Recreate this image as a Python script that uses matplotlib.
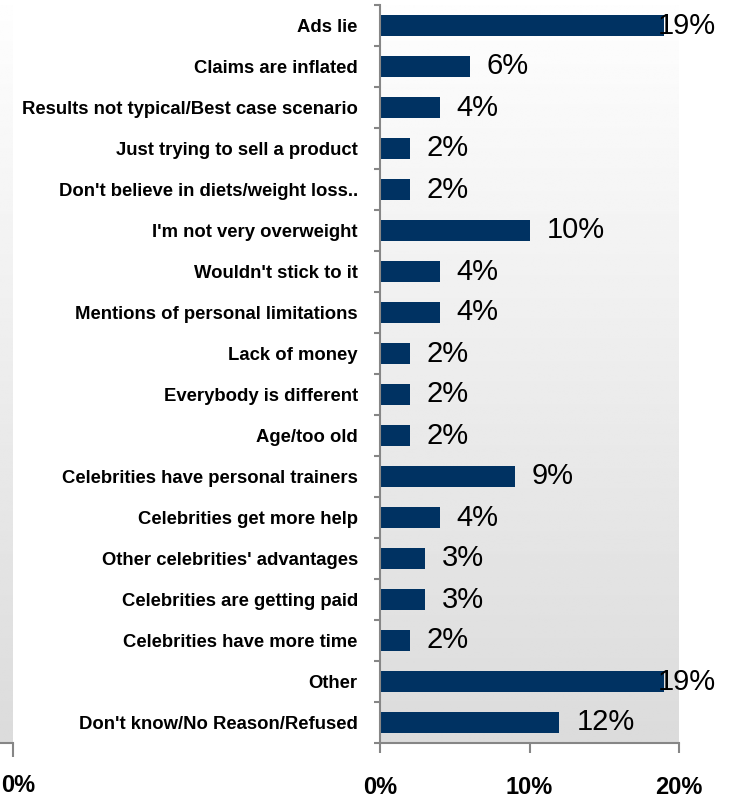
import numpy as np
import matplotlib
matplotlib.use("Agg")
from matplotlib import pyplot as plt
from matplotlib.ticker import FixedLocator, NullFormatter

plt.rcParams['font.family'] = ['Liberation Sans', 'DejaVu Sans']

reasons = [
    "Ads lie",
    "Claims are inflated",
    "Results not typical/Best case scenario",
    "Just trying to sell a product",
    "Don't believe in diets/weight loss..",
    "I'm not very overweight",
    "Wouldn't stick to it",
    "Mentions of personal limitations",
    "Lack of money",
    "Everybody is different",
    "Age/too old",
    "Celebrities have personal trainers",
    "Celebrities get more help",
    "Other celebrities' advantages",
    "Celebrities are getting paid",
    "Celebrities have more time",
    "Other",
    "Don't know/No Reason/Refused",
]
percent = [19, 6, 4, 2, 2, 10, 4, 4, 2, 2, 2, 9, 4, 3, 3, 2, 19, 12]
x_ticks = [0, 10, 20]
x_tick_labels = ["0%", "10%", "20%"]

bar_color = "#003262"
axis_gray = "#868686"

# soft vertical gradient used behind the plot areas
gradient = np.linspace(0.995, 0.86, 256).reshape(-1, 1)


def paint_background(ax):
    ax.imshow(gradient, cmap="gray", vmin=0, vmax=1, aspect="auto",
              extent=[0, 1, 0, 1], transform=ax.transAxes, zorder=0,
              interpolation="bilinear")


fig = plt.figure(figsize=(7.33, 8.06), dpi=100)

# main chart
ax = fig.add_axes([380 / 733, 1 - 743 / 806, 299 / 733, 738 / 806])
paint_background(ax)

n = len(reasons)
y = np.arange(n)
bars = ax.barh(y, percent, height=0.5, color=bar_color, zorder=2)

ax.set_xlim(0, 20)
ax.set_ylim(n - 0.5, -0.5)

for rect, v in zip(bars, percent):
    dx = -6 if v > 17 else 17
    ax.annotate(f"{v}%", xy=(v, rect.get_y() + rect.get_height() / 2),
                xytext=(dx, 0), textcoords="offset pixels",
                ha="left", va="center", fontsize=21, color="black", zorder=3,
                annotation_clip=False)

ax.set_yticks(y)
ax.set_yticklabels(reasons, fontsize=13.3, fontweight="bold")
ax.tick_params(axis="y", which="major", length=0, pad=16)
ax.yaxis.set_minor_locator(FixedLocator(np.arange(n + 1) - 0.5))
ax.yaxis.set_minor_formatter(NullFormatter())
ax.tick_params(axis="y", which="minor", length=4, width=1.5, color=axis_gray,
               direction="out")

ax.set_xticks(x_ticks)
ax.set_xticklabels(x_tick_labels, fontsize=17, fontweight="bold")
ax.tick_params(axis="x", length=7, width=1.5, color=axis_gray, pad=17)

for side in ("top", "right"):
    ax.spines[side].set_visible(False)
for side in ("left", "bottom"):
    ax.spines[side].set_color(axis_gray)
    ax.spines[side].set_linewidth(1.5)

# edge of the neighbouring chart on the far left
strip = fig.add_axes([-40 / 733, 1 - 743 / 806, 53 / 733, 738 / 806])
paint_background(strip)
strip.set_xlim(-1, 0)
strip.set_ylim(0, 1)
strip.set_yticks([])
strip.set_xticks([0])
strip.set_xticklabels([])
strip.tick_params(axis="x", length=10, width=1.5, color=axis_gray)
for side in ("top", "right", "left"):
    strip.spines[side].set_visible(False)
strip.spines["bottom"].set_color(axis_gray)
strip.spines["bottom"].set_linewidth(1.5)
fig.text(1 / 733, 1 - 786 / 806, x_tick_labels[0], ha="left", va="center",
         fontsize=17, fontweight="bold")

fig.savefig("out.png", dpi=100)
